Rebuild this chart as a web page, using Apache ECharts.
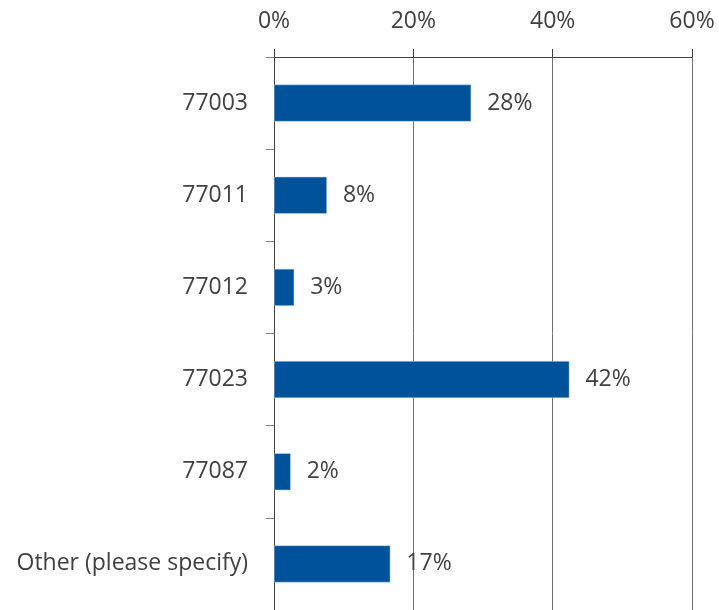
<!DOCTYPE html>
<html>
<head>
<meta charset="utf-8">
<script src="https://cdn.jsdelivr.net/npm/echarts@6/dist/echarts.min.js"></script>
<style>
  html, body { margin: 0; padding: 0; background: #fff; }
  #chart { width: 719px; height: 610px; }
</style>
</head>
<body>
<div id="chart"></div>
<script>
// categories and values
var categories = ['77003', '77011', '77012', '77023', '77087', 'Other (please specify)'];
var values = [28.3, 7.6, 2.9, 42.4, 2.4, 16.7];
var labels = ['28%', '8%', '3%', '42%', '2%', '17%'];
var xTicks = [0, 20, 40, 60];

var chart = echarts.init(document.getElementById('chart'));

var option = {
    animation: false,
    grid: { left: 274, right: 27, top: 57, height: 556, containLabel: false },
    xAxis: {
        type: 'value',
        position: 'top',
        min: xTicks[0],
        max: xTicks[xTicks.length - 1],
        interval: 20,
        axisLine: { show: true, lineStyle: { color: '#404040', width: 1 } },
        axisTick: { show: true, inside: false, length: 8, lineStyle: { color: '#404040' } },
        axisLabel: {
            formatter: '{value}%',
            color: '#404040',
            fontSize: 23,
            fontFamily: 'Open Sans',
            margin: 24
        },
        splitLine: { show: true, lineStyle: { color: '#707070', width: 1 } }
    },
    yAxis: {
        type: 'category',
        inverse: true,
        data: categories,
        axisLine: { show: true, lineStyle: { color: '#404040', width: 1 } },
        axisTick: { show: true, length: 8, lineStyle: { color: '#808080' } },
        axisLabel: {
            color: '#404040',
            fontSize: 23,
            fontFamily: 'Open Sans',
            margin: 26
        }
    },
    series: [
        {
            type: 'bar',
            data: values,
            barWidth: 37,
            itemStyle: { color: '#00529B', borderColor: '#BDD7EE', borderWidth: 0.5 },
            label: {
                show: true,
                position: 'right',
                distance: 16,
                color: '#404040',
                fontSize: 23,
                fontFamily: 'Open Sans',
                formatter: function (p) { return labels[p.dataIndex]; }
            }
        }
    ]
};

chart.setOption(option);
</script>
</body>
</html>
